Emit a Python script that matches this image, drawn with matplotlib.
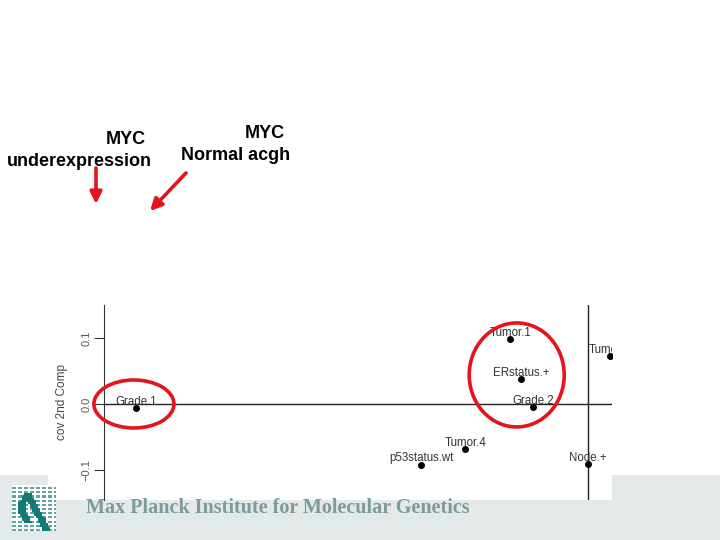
import numpy as np
import matplotlib
matplotlib.use("Agg")
import matplotlib.pyplot as plt
from matplotlib.patches import Rectangle, Ellipse, FancyArrowPatch
from matplotlib.colors import LinearSegmentedColormap

# ---------------------------
# DATA
# ---------------------------
labels = ["Grade.1", "Tumor.1", "ERstatus.+", "Grade.2", "Tumor.4",
          "p53status.wt", "Node.+", "Tumor.2"]
comp1 = [-0.685, -0.118, -0.101, -0.083, -0.186, -0.253, 0.000, 0.033]
comp2 = [-0.006, 0.098, 0.038, -0.005, -0.068, -0.092, -0.091, 0.073]
yticks = [-0.1, 0.0, 0.1]
ytick_labels = ["\u22120.1", "0.0", "0.1"]

W, H = 720, 540
RED = "#e3141b"
FOOT = "#e2e9e8"

plt.rcParams["font.family"] = ["Liberation Sans", "DejaVu Sans"]
fig = plt.figure(figsize=(W / 100, H / 100), dpi=100)

# ---------------------------
# BACKGROUND (slide, pixel coords)
# ---------------------------
bg = fig.add_axes([0, 0, 1, 1], zorder=0)
bg.axis("off")
bg.add_patch(Rectangle((0, 475), W, 65, color=FOOT, lw=0))
bg.add_patch(Rectangle((48, 298), 564, 202, color="white", lw=0))

# logo: teal grid with white lines and a darker S/X shape
n = 22
logo = np.full((n, n), 0.5)
logo[::2, :] = 1.0
logo[:, 2::3] = 1.0
for i in range(n):
    for j in range(n):
        t = i / (n - 1)
        on_diag = abs(j - (0.25 + 0.55 * t) * (n - 1)) < 2 and i > 3
        on_curve = abs(j - (0.6 - 0.4 * np.sin(np.pi * t)) * (n - 1)) < 2 and 3 < i < n - 4
        if on_diag or on_curve:
            logo[i, j] = 0.0
bg.imshow(logo, cmap=LinearSegmentedColormap.from_list("lg", ["#157a74", "#5fa6a0", "#ffffff"]),
          extent=(12, 56, 531, 485), interpolation="nearest", zorder=2)
bg.set_xlim(0, W)
bg.set_ylim(H, 0)
bg.set_aspect("auto")

bg.text(86, 508, "Max Planck Institute for Molecular Genetics",
        fontsize=14.5, fontweight="bold", family=["Liberation Serif", "DejaVu Serif"],
        color="#7d9b9b", va="center", ha="left")

# slide annotations
bg.text(146, 140, "MYC", fontsize=13, fontweight="bold", ha="right", va="center")
bg.text(152, 162, "underexpression", fontsize=13, fontweight="bold", ha="right", va="center")
bg.text(265, 134, "MYC", fontsize=13, fontweight="bold", ha="center", va="center")
bg.text(236, 156, "Normal acgh", fontsize=13, fontweight="bold", ha="center", va="center")

for (xa, ya), (xb, yb) in [((96, 168), (96, 204)), ((186, 173), (150, 211))]:
    bg.add_patch(FancyArrowPatch((xa, ya), (xb, yb),
                                 arrowstyle="-|>,head_length=0.7,head_width=0.35",
                                 color=RED, lw=2.6, mutation_scale=10, shrinkA=0, shrinkB=0))

# ---------------------------
# PLOT
# ---------------------------
px = 660.0  # pixels per unit
x0_px, y0_px = 588, 404
left, right, top, bottom = 104, 612, 305, 500
ax = fig.add_axes([left / W, 1 - bottom / H, (right - left) / W, (bottom - top) / H], zorder=1)
ax.patch.set_alpha(0)
ax.set_xlim((left - x0_px) / px, (right - x0_px) / px)
ax.set_ylim((y0_px - bottom) / px, (y0_px - top) / px)

for s in ["top", "right", "bottom"]:
    ax.spines[s].set_visible(False)
ax.spines["left"].set_color("#333333")
ax.set_xticks([])
ax.set_yticks(yticks)
ax.set_yticklabels(ytick_labels, rotation=90, va="center", fontsize=8, color="#555555")
ax.tick_params(axis="y", length=7, color="#333333", pad=2)
ax.set_ylabel("cov 2nd Comp", fontsize=8.5, color="#444444", labelpad=10)

ax.axhline(0, color="#222222", lw=1)
ax.axvline(0, color="#222222", lw=1)

ax.scatter(comp1, comp2, s=16, color="black", zorder=3)
for lab, x, y in zip(labels, comp1, comp2):
    ax.annotate(lab, (x, y), xytext=(0, 4.5), textcoords="offset points",
                ha="center", va="center", fontsize=8.3, color="#333333",
                annotation_clip=True, clip_on=True)

# red circles
ax.add_patch(Ellipse((-0.688, 0.0), 80 / px, 48 / px, fill=False, ec=RED, lw=2.6, clip_on=False, zorder=4))
ax.add_patch(Ellipse((-0.108, 0.044), 95 / px, 104 / px, fill=False, ec=RED, lw=2.6, clip_on=False, zorder=4))

fig.savefig("out.png", dpi=100)
